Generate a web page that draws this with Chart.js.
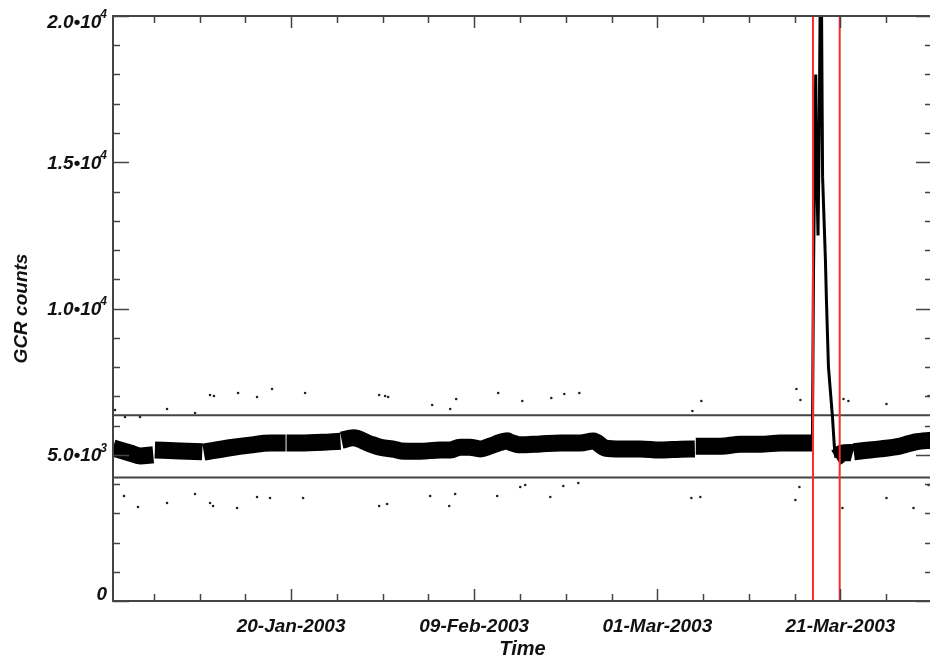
<!DOCTYPE html>
<html>
<head>
<meta charset="utf-8">
<title>GCR counts</title>
<script src="https://cdn.jsdelivr.net/npm/chart.js@4.4.1/dist/chart.umd.min.js"></script>
<style>
    html, body { margin: 0; padding: 0; background: #ffffff; overflow: hidden; }
    #wrap { width: 930px; height: 657px; overflow: hidden; }
    canvas { display: block; }
</style>
</head>
<body>
<div id="wrap"><canvas id="gcr" width="936" height="657"></canvas></div>
<script>
// x values are day-of-year 2003 (1.0 = 01-Jan 00:00)
const bandDay = [0.55, 2.4, 3.5, 4.95, 5.03, 5.12, 7.87, 10.3, 10.38, 10.46, 13.33, 15.52, 17.7, 19.4, 19.45, 19.5,
    20.98, 24.26, 25.4, 25.46, 25.52, 26.8, 28.63, 29.73, 31.37, 32.0, 34.1, 36.28, 37.4, 38.47, 39.5, 40.66,
    41.75, 42.84, 43.6, 43.93, 45.03, 47.21, 49.4, 51.58, 53.01, 54.32, 55.96, 58.14, 60.33, 62.5, 64.1, 64.15,
    64.2, 66.89, 69.07, 71.26, 73.44, 75.63, 76.94, 76.95,
    79.5, 79.8, 80.1, 81.1, 81.35, 81.4, 81.45, 82.2, 84.37, 86.56, 88.2, 90.0];
const bandCount = [5230, 5060, 4960, 5000, null, 5160, 5130, 5100, null, 5090, 5240, 5330, 5400, 5400, null, 5400,
    5400, 5440, 5460, null, 5500, 5580, 5370, 5260, 5180, 5130, 5120, 5160, 5160, 5260, 5260, 5200,
    5300, 5420, 5480, 5430, 5340, 5370, 5400, 5400, 5470, 5230, 5200, 5200, 5160, 5190, 5200, null,
    5290, 5290, 5360, 5360, 5400, 5400, 5400, null,
    4900, 4960, 5050, 5080, 5060, null, 5100, 5130, 5200, 5300, 5440, 5500];

const spikeDay = [76.94, 77.05, 77.2, 77.3, 77.42, 77.55, 77.68, 77.8, 77.92, 78.05, 78.36, 78.47, 78.69, 79.13, 79.34, 79.5];
const spikeCount = [5400, 11000, 15500, 18000, 14500, 12500, 16000, 21000, 21000, 14500, 11660, 10290, 8000, 6290, 5265, 4900];

// isolated points away from the main band
const outDay = [0.77, 1.86, 3.5, 6.45, 9.51, 11.15, 11.58, 14.21, 16.28, 17.92, 21.53, 29.62, 30.27, 30.6, 35.41,
    37.38, 38.03, 42.62, 45.25, 48.42, 49.84, 51.48, 63.83, 64.81, 75.19, 75.63, 80.33, 80.87, 85.03, 89.62,
    1.75, 3.28, 6.45, 9.51, 11.15, 11.48, 14.1, 16.28, 17.7, 21.31, 29.62, 30.49, 35.19, 37.27, 37.92,
    42.51, 45.03, 45.57, 48.31, 49.73, 51.37, 63.72, 64.7, 75.52, 75.08, 80.22, 85.03, 87.98, 89.62];
const outCount = [6530, 6290, 6290, 6564, 6427, 7043, 7009, 7111, 6974, 7248, 7111, 7043, 7009, 6974, 6701,
    6564, 6906, 7111, 6838, 6940, 7077, 7111, 6496, 6838, 7248, 6872, 6906, 6838, 6735, 7009,
    3590, 3214, 3350, 3658, 3350, 3248, 3180, 3556, 3521, 3521, 3248, 3316, 3590, 3248, 3658,
    3590, 3897, 3966, 3556, 3932, 4034, 3521, 3556, 3897, 3453, 3180, 3521, 3180, 3966];

const upperLevel = 6350;
const lowerLevel = 4220;
const eventDays = [77.0, 79.92];

const xMin = 0.55, xMax = 90;
const yMin = 0, yMax = 20000;

const yTickValues = [0, 5000, 10000, 15000, 20000];
const yTickMant = ['0', '5.0', '1.0', '1.5', '2.0'];
const yTickExp = [null, '3', '4', '4', '4'];
const xTickDays = [20, 40, 60, 80];
const xTickLabels = ['20-Jan-2003', '09-Feb-2003', '01-Mar-2003', '21-Mar-2003'];

const FONT = '"Liberation Sans", Arial, Helvetica, sans-serif';
const AXIS_COLOR = '#444444';

function pairs(xs, ys) {
    return xs.map((x, i) => ({ x: x, y: ys[i] }));
}

// IDL style box with inward ticks and labels
const idlAxes = {
    id: 'idlAxes',
    afterDatasetsDraw(chart) {
        const ctx = chart.ctx;
        const area = chart.chartArea;
        const xs = chart.scales.x;
        const ys = chart.scales.y;
        ctx.save();
        ctx.strokeStyle = AXIS_COLOR;
        ctx.lineWidth = 2;
        ctx.strokeRect(area.left, area.top, area.right - area.left, area.bottom - area.top);

        ctx.lineWidth = 1.5;
        ctx.beginPath();
        for (let v = yMin; v <= yMax; v += 1000) {
            const py = Math.round(ys.getPixelForValue(v)) + 0.5;
            const len = v % 5000 === 0 ? 16 : 7;
            ctx.moveTo(area.left, py); ctx.lineTo(area.left + len, py);
            ctx.moveTo(area.right, py); ctx.lineTo(area.right - len, py);
        }
        for (let d = 5; d < xMax; d += 5) {
            const px = Math.round(xs.getPixelForValue(d)) + 0.5;
            const len = d % 20 === 0 ? 12 : 7;
            ctx.moveTo(px, area.bottom); ctx.lineTo(px, area.bottom - len);
            ctx.moveTo(px, area.top); ctx.lineTo(px, area.top + len);
        }
        ctx.stroke();

        ctx.fillStyle = '#111111';
        // y labels
        yTickValues.forEach((v, i) => {
            let py = ys.getPixelForValue(v) + 1.5;
            py = Math.max(23, Math.min(595, py));
            const right = 107;
            ctx.textBaseline = 'middle';
            if (yTickExp[i] === null) {
                ctx.font = 'bold italic 19px ' + FONT;
                ctx.textAlign = 'right';
                ctx.fillText(yTickMant[i], right, py);
                return;
            }
            ctx.font = 'bold italic 12px ' + FONT;
            const expW = ctx.measureText(yTickExp[i]).width;
            ctx.textAlign = 'left';
            ctx.fillText(yTickExp[i], right - expW, py - 8);
            ctx.font = 'bold italic 19px ' + FONT;
            ctx.textAlign = 'right';
            ctx.fillText(yTickMant[i] + '\u202210', right - expW + 1, py);
        });
        // x labels
        ctx.font = 'bold italic 19px ' + FONT;
        ctx.textAlign = 'center';
        ctx.textBaseline = 'alphabetic';
        xTickDays.forEach((d, i) => {
            ctx.fillText(xTickLabels[i], xs.getPixelForValue(d), 632);
        });
        // axis titles
        ctx.font = 'bold italic 20px ' + FONT;
        ctx.fillText('Time', (area.left + area.right) / 2, 655);
        ctx.save();
        ctx.translate(27, (area.top + area.bottom) / 2);
        ctx.rotate(-Math.PI / 2);
        ctx.font = 'bold italic 19px ' + FONT;
        ctx.fillText('GCR counts', 0, 0);
        ctx.restore();
        ctx.restore();
    }
};

const ctx = document.getElementById('gcr').getContext('2d');

new Chart(ctx, {
    type: 'line',
    data: {
        datasets: [
            {
                label: 'event start',
                data: pairs([eventDays[0], eventDays[0]], [yMin, yMax]),
                borderColor: '#ff2a2a',
                borderWidth: 2,
                pointRadius: 0,
                order: 0
            },
            {
                label: 'event end',
                data: pairs([eventDays[1], eventDays[1]], [yMin, yMax]),
                borderColor: '#ff2a2a',
                borderWidth: 2,
                pointRadius: 0,
                order: 0
            },
            {
                label: 'spike',
                data: pairs(spikeDay, spikeCount),
                borderColor: '#000000',
                borderWidth: 3,
                pointRadius: 0,
                tension: 0,
                order: 1
            },
            {
                label: 'GCR counts',
                data: pairs(bandDay, bandCount),
                borderColor: '#000000',
                borderWidth: 17,
                borderCapStyle: 'butt',
                borderJoinStyle: 'round',
                cubicInterpolationMode: 'monotone',
                spanGaps: false,
                pointRadius: 0,
                order: 2
            },
            {
                label: 'upper level',
                data: pairs([xMin, xMax], [upperLevel, upperLevel]),
                borderColor: AXIS_COLOR,
                borderWidth: 2,
                pointRadius: 0,
                order: 3
            },
            {
                label: 'lower level',
                data: pairs([xMin, xMax], [lowerLevel, lowerLevel]),
                borderColor: AXIS_COLOR,
                borderWidth: 2,
                pointRadius: 0,
                order: 3
            },
            {
                label: 'outliers',
                data: pairs(outDay, outCount),
                showLine: false,
                pointRadius: 1.3,
                pointBackgroundColor: '#222222',
                pointBorderWidth: 0,
                order: 4
            }
        ]
    },
    options: {
        responsive: false,
        animation: false,
        devicePixelRatio: 1,
        layout: {
            padding: { left: 113, top: 16, right: 4, bottom: 56 }
        },
        plugins: {
            legend: { display: false },
            tooltip: { enabled: false }
        },
        scales: {
            x: {
                type: 'linear',
                min: xMin,
                max: xMax,
                display: false
            },
            y: {
                type: 'linear',
                min: yMin,
                max: yMax,
                display: false
            }
        }
    },
    plugins: [idlAxes]
});
</script>
</body>
</html>
